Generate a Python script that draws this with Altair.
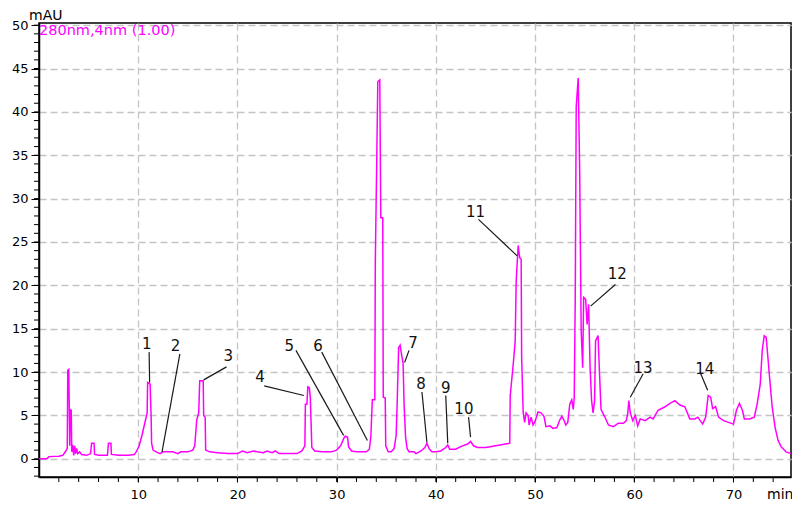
import altair as alt
import pandas as pd

# ---- chromatogram trace (time in min, absorbance in mAU) ----
t_min = [0.0, 0.8, 1.0, 2.0, 2.4, 2.7, 2.85, 2.9, 3.0, 3.05, 3.1, 3.15, 3.25, 3.3, 3.4, 3.5, 3.6, 3.7, 3.8, 3.9,
         4.1, 4.3, 4.8, 5.2, 5.3, 5.55, 5.6, 6.0, 6.9, 7.0, 7.25, 7.3, 8.0, 9.0, 9.6, 9.8, 10.1, 10.4, 10.7, 10.9,
         10.95, 11.2, 11.3, 11.35, 11.5, 11.8, 12.2, 12.5, 13.0, 13.5, 14.0, 14.3, 15.0, 15.5, 15.7, 15.9, 16.1, 16.2, 16.55, 16.6,
         16.75, 16.8, 17.2, 18.0, 19.0, 20.0, 20.5, 21.0, 21.6, 22.0, 22.6, 23.0, 23.5, 23.8, 24.2, 25.0, 26.0, 26.5, 26.8, 26.85,
         27.0, 27.1, 27.25, 27.35, 27.5, 27.8, 28.5, 29.5, 30.0, 30.4, 30.7, 30.85, 31.1, 31.2, 31.5, 32.0, 33.0, 33.3, 33.45, 33.6,
         33.85, 33.9, 34.05, 34.15, 34.35, 34.45, 34.65, 34.7, 34.9, 34.95, 35.2, 35.5, 35.8, 36.0, 36.1, 36.25, 36.4, 36.55, 36.7, 36.8,
         36.95, 37.1, 37.3, 37.8, 38.0, 38.5, 38.9, 39.1, 39.3, 39.6, 40.0, 40.5, 41.0, 41.2, 41.4, 42.0, 42.5, 43.2, 43.5, 43.8,
         44.2, 45.0, 45.5, 46.0, 46.5, 47.0, 47.45, 47.5, 47.8, 48.0, 48.1, 48.3, 48.45, 48.6, 48.65, 48.8, 48.95, 49.1, 49.3, 49.4,
         49.6, 49.8, 50.0, 50.3, 50.6, 50.9, 51.1, 51.5, 51.8, 52.2, 52.5, 52.7, 52.9, 53.1, 53.3, 53.5, 53.7, 53.85, 53.95, 54.05,
         54.15, 54.35, 54.5, 54.65, 54.8, 54.9, 55.1, 55.25, 55.4, 55.55, 55.7, 55.85, 56.0, 56.1, 56.35, 56.5, 56.65, 57.0, 57.4, 57.9,
         58.4, 58.9, 59.2, 59.35, 59.45, 59.6, 59.85, 60.1, 60.35, 60.6, 61.1, 61.6, 61.9, 62.4, 63.1, 63.6, 64.1, 64.6, 65.1, 65.6,
         66.1, 66.4, 66.9, 67.2, 67.45, 67.7, 67.9, 68.2, 68.5, 69.0, 69.5, 70.0, 70.3, 70.6, 70.9, 71.1, 71.6, 72.1, 72.4, 72.7,
         72.9, 73.1, 73.3, 73.5, 73.7, 73.9, 74.2, 74.5, 74.8, 75.3, 75.8]
mau = [0.0, 0.0, 0.25, 0.3, 0.4, 0.9, 1.2, 10.2, 10.3, 6.0, 1.5, 5.7, 5.6, 0.8, 1.6, 0.4, 1.5, 0.6, 1.2, 0.6,
       0.8, 0.5, 0.4, 0.6, 1.8, 1.8, 0.5, 0.4, 0.4, 1.8, 1.8, 0.5, 0.4, 0.4, 0.5, 0.8, 1.5, 2.8, 4.3, 5.3,
       8.8, 8.6, 5.0, 1.8, 1.0, 0.8, 0.6, 0.8, 0.8, 0.8, 0.6, 0.8, 0.8, 1.0, 1.5, 4.5, 5.3, 9.0, 9.0, 5.0,
       4.8, 1.0, 0.8, 0.7, 0.6, 0.6, 0.9, 0.7, 0.9, 0.8, 0.7, 0.9, 0.7, 0.9, 0.6, 0.6, 0.6, 0.9, 1.5, 6.3,
       6.3, 8.3, 8.2, 7.0, 1.3, 0.9, 0.8, 0.8, 1.0, 1.5, 2.3, 2.6, 2.5, 1.4, 0.9, 0.8, 0.8, 1.1, 2.6, 6.8,
       6.8, 22.8, 35.0, 43.5, 43.7, 27.8, 27.8, 7.1, 7.0, 1.5, 0.8, 0.8, 1.2, 2.7, 6.3, 12.8, 13.1, 12.0, 11.0, 6.3,
       2.5, 1.2, 0.8, 0.8, 0.6, 0.9, 1.3, 1.8, 1.2, 0.8, 0.8, 0.9, 1.3, 1.6, 1.1, 1.1, 1.4, 1.7, 2.0, 1.5,
       1.3, 1.3, 1.4, 1.5, 1.6, 1.7, 1.8, 7.3, 10.9, 13.6, 20.5, 24.6, 23.2, 23.0, 11.7, 5.4, 4.2, 5.3, 5.0, 3.9,
       4.8, 3.9, 4.3, 5.4, 5.3, 4.9, 3.7, 3.8, 3.5, 3.6, 4.5, 4.9, 4.5, 3.9, 4.2, 6.3, 6.8, 5.7, 7.0, 18.2,
       40.6, 43.9, 33.2, 14.8, 10.5, 18.6, 18.4, 15.5, 17.8, 10.5, 6.7, 5.3, 6.7, 13.6, 14.2, 9.8, 5.7, 4.9, 3.9, 3.7,
       4.1, 4.1, 4.4, 5.3, 6.7, 5.3, 4.4, 5.0, 3.8, 4.6, 4.4, 4.8, 4.6, 5.6, 6.0, 6.4, 6.7, 6.2, 6.0, 4.6,
       4.6, 4.8, 4.0, 4.8, 7.3, 7.1, 5.8, 6.0, 4.8, 4.4, 4.2, 4.0, 5.6, 6.4, 5.6, 4.6, 4.6, 4.8, 6.4, 8.6,
       12.5, 14.2, 14.0, 11.3, 8.6, 6.0, 3.6, 2.1, 1.4, 0.8, 0.6]

# ---- peak annotations ----
peak_labels = ["1", "2", "3", "4", "5", "6", "7", "8", "9", "10", "11", "12", "13", "14"]
label_t = [10.87, 13.76, 19.07, 22.29, 25.22, 28.12, 37.69, 38.51, 41.0, 42.83, 44.0, 58.29, 60.88, 67.1]
label_y = [13.2, 13.0, 11.9, 9.4, 13.0, 13.0, 13.4, 8.6, 8.2, 5.7, 28.4, 21.3, 10.5, 10.3]
lead_t1 = [11.1, 14.2, 18.9, 22.7, 25.9, 28.5, 37.3, 38.6, 41.0, 43.3, 44.3, 58.1, 60.9, 66.7]
lead_y1 = [12.3, 12.1, 10.6, 8.4, 12.5, 12.3, 12.5, 7.7, 7.3, 4.8, 27.6, 20.1, 9.8, 9.8]
lead_t2 = [11.15, 12.4, 16.6, 26.7, 30.7, 33.1, 36.85, 39.1, 41.2, 43.5, 48.2, 55.6, 59.6, 67.4]
lead_y2 = [8.8, 0.8, 9.1, 7.3, 2.7, 2.1, 11.1, 1.9, 1.8, 2.5, 23.4, 17.6, 7.1, 7.9]

# ---- axes ----
x_major = [10, 20, 30, 40, 50, 60, 70]
x_minor = list(range(2, 76, 2))
y_major = [0, 5, 10, 15, 20, 25, 30, 35, 40, 45, 50]
y_minor = list(range(-2, 51))
x_domain = [0, 75.8]
y_domain = [-2.1, 50.25]

FONT = "DejaVu Sans"
MAGENTA = "#ff00ff"
W, H = 752, 454

trace = pd.DataFrame({"t": t_min, "mau": mau})
ann = pd.DataFrame({"label": peak_labels, "lt": label_t, "ly": label_y,
                    "t1": lead_t1, "y1": lead_y1, "t2": lead_t2, "y2": lead_y2})
ymin_df = pd.DataFrame({"yv": y_minor})
xmin_df = pd.DataFrame({"xv": x_minor})

xs = alt.Scale(domain=x_domain, nice=False, zero=False)
ys = alt.Scale(domain=y_domain, nice=False, zero=False)

x_axis = alt.Axis(values=x_major, title=None, grid=True, gridDash=[7, 4], gridColor="#c4c4c4",
                  gridWidth=1.3, tickSize=5, tickColor="black", domainColor="black", domainWidth=1.5,
                  labelFont=FONT, labelFontSize=13, labelColor="black", labelPadding=6, labelFlush=False)
y_axis = alt.Axis(values=y_major, title=None, grid=True, gridDash=[7, 4], gridColor="#c4c4c4",
                  gridWidth=1.3, tickSize=8, tickColor="black", domainColor="black", domainWidth=1.5,
                  labelFont=FONT, labelFontSize=13, labelColor="black", labelPadding=3)


def X(field):
    return alt.X(field, type="quantitative", scale=xs, axis=x_axis)


def Y(field):
    return alt.Y(field, type="quantitative", scale=ys, axis=y_axis)


line = alt.Chart(trace).mark_line(color=MAGENTA, strokeWidth=1.5).encode(x=X("t"), y=Y("mau"))

ytick = alt.Chart(ymin_df).mark_rule(color="black", strokeWidth=1).encode(
    y=Y("yv"), x=alt.value(-5), x2=alt.value(0))

xtick = alt.Chart(xmin_df).mark_rule(color="black", strokeWidth=1).encode(
    x=X("xv"), y=alt.value(H), y2=alt.value(H + 5))

leaders = alt.Chart(ann).mark_rule(color="#1a1a1a", strokeWidth=1.2).encode(
    x=X("t1"), y=Y("y1"), x2="t2:Q", y2="y2:Q")

labels = alt.Chart(ann).mark_text(font=FONT, fontSize=15, color="#111111", align="center",
                                  baseline="middle").encode(
    x=X("lt"), y=Y("ly"), text="label:N")

txt_df = pd.DataFrame({"s": ["mAU"]})
mau_txt = alt.Chart(txt_df).mark_text(font=FONT, fontSize=14, color="black", align="left",
                                      baseline="middle").encode(
    x=alt.value(-10), y=alt.value(-7), text="s:N")
min_df = pd.DataFrame({"s": ["min"]})
min_txt = alt.Chart(min_df).mark_text(font=FONT, fontSize=14, color="black", align="left",
                                      baseline="middle").encode(
    x=alt.value(W - 24), y=alt.value(H + 18), text="s:N")
leg_df = pd.DataFrame({"s": ["280nm,4nm (1.00)"]})
leg_txt = alt.Chart(leg_df).mark_text(font=FONT, fontSize=14.5, color=MAGENTA, align="left",
                                      baseline="middle").encode(
    x=alt.value(0), y=alt.value(8), text="s:N")

chart = alt.layer(line, ytick, xtick, leaders, labels, mau_txt, min_txt, leg_txt).properties(
    width=W, height=H,
    autosize=alt.AutoSizeParams(type="none"),
    padding={"left": 31, "top": 15, "right": 1, "bottom": 26},
    background="white",
).configure_view(stroke="black", strokeWidth=1.5)

chart.save("out.html", embed_options={"renderer": "svg", "actions": False})
